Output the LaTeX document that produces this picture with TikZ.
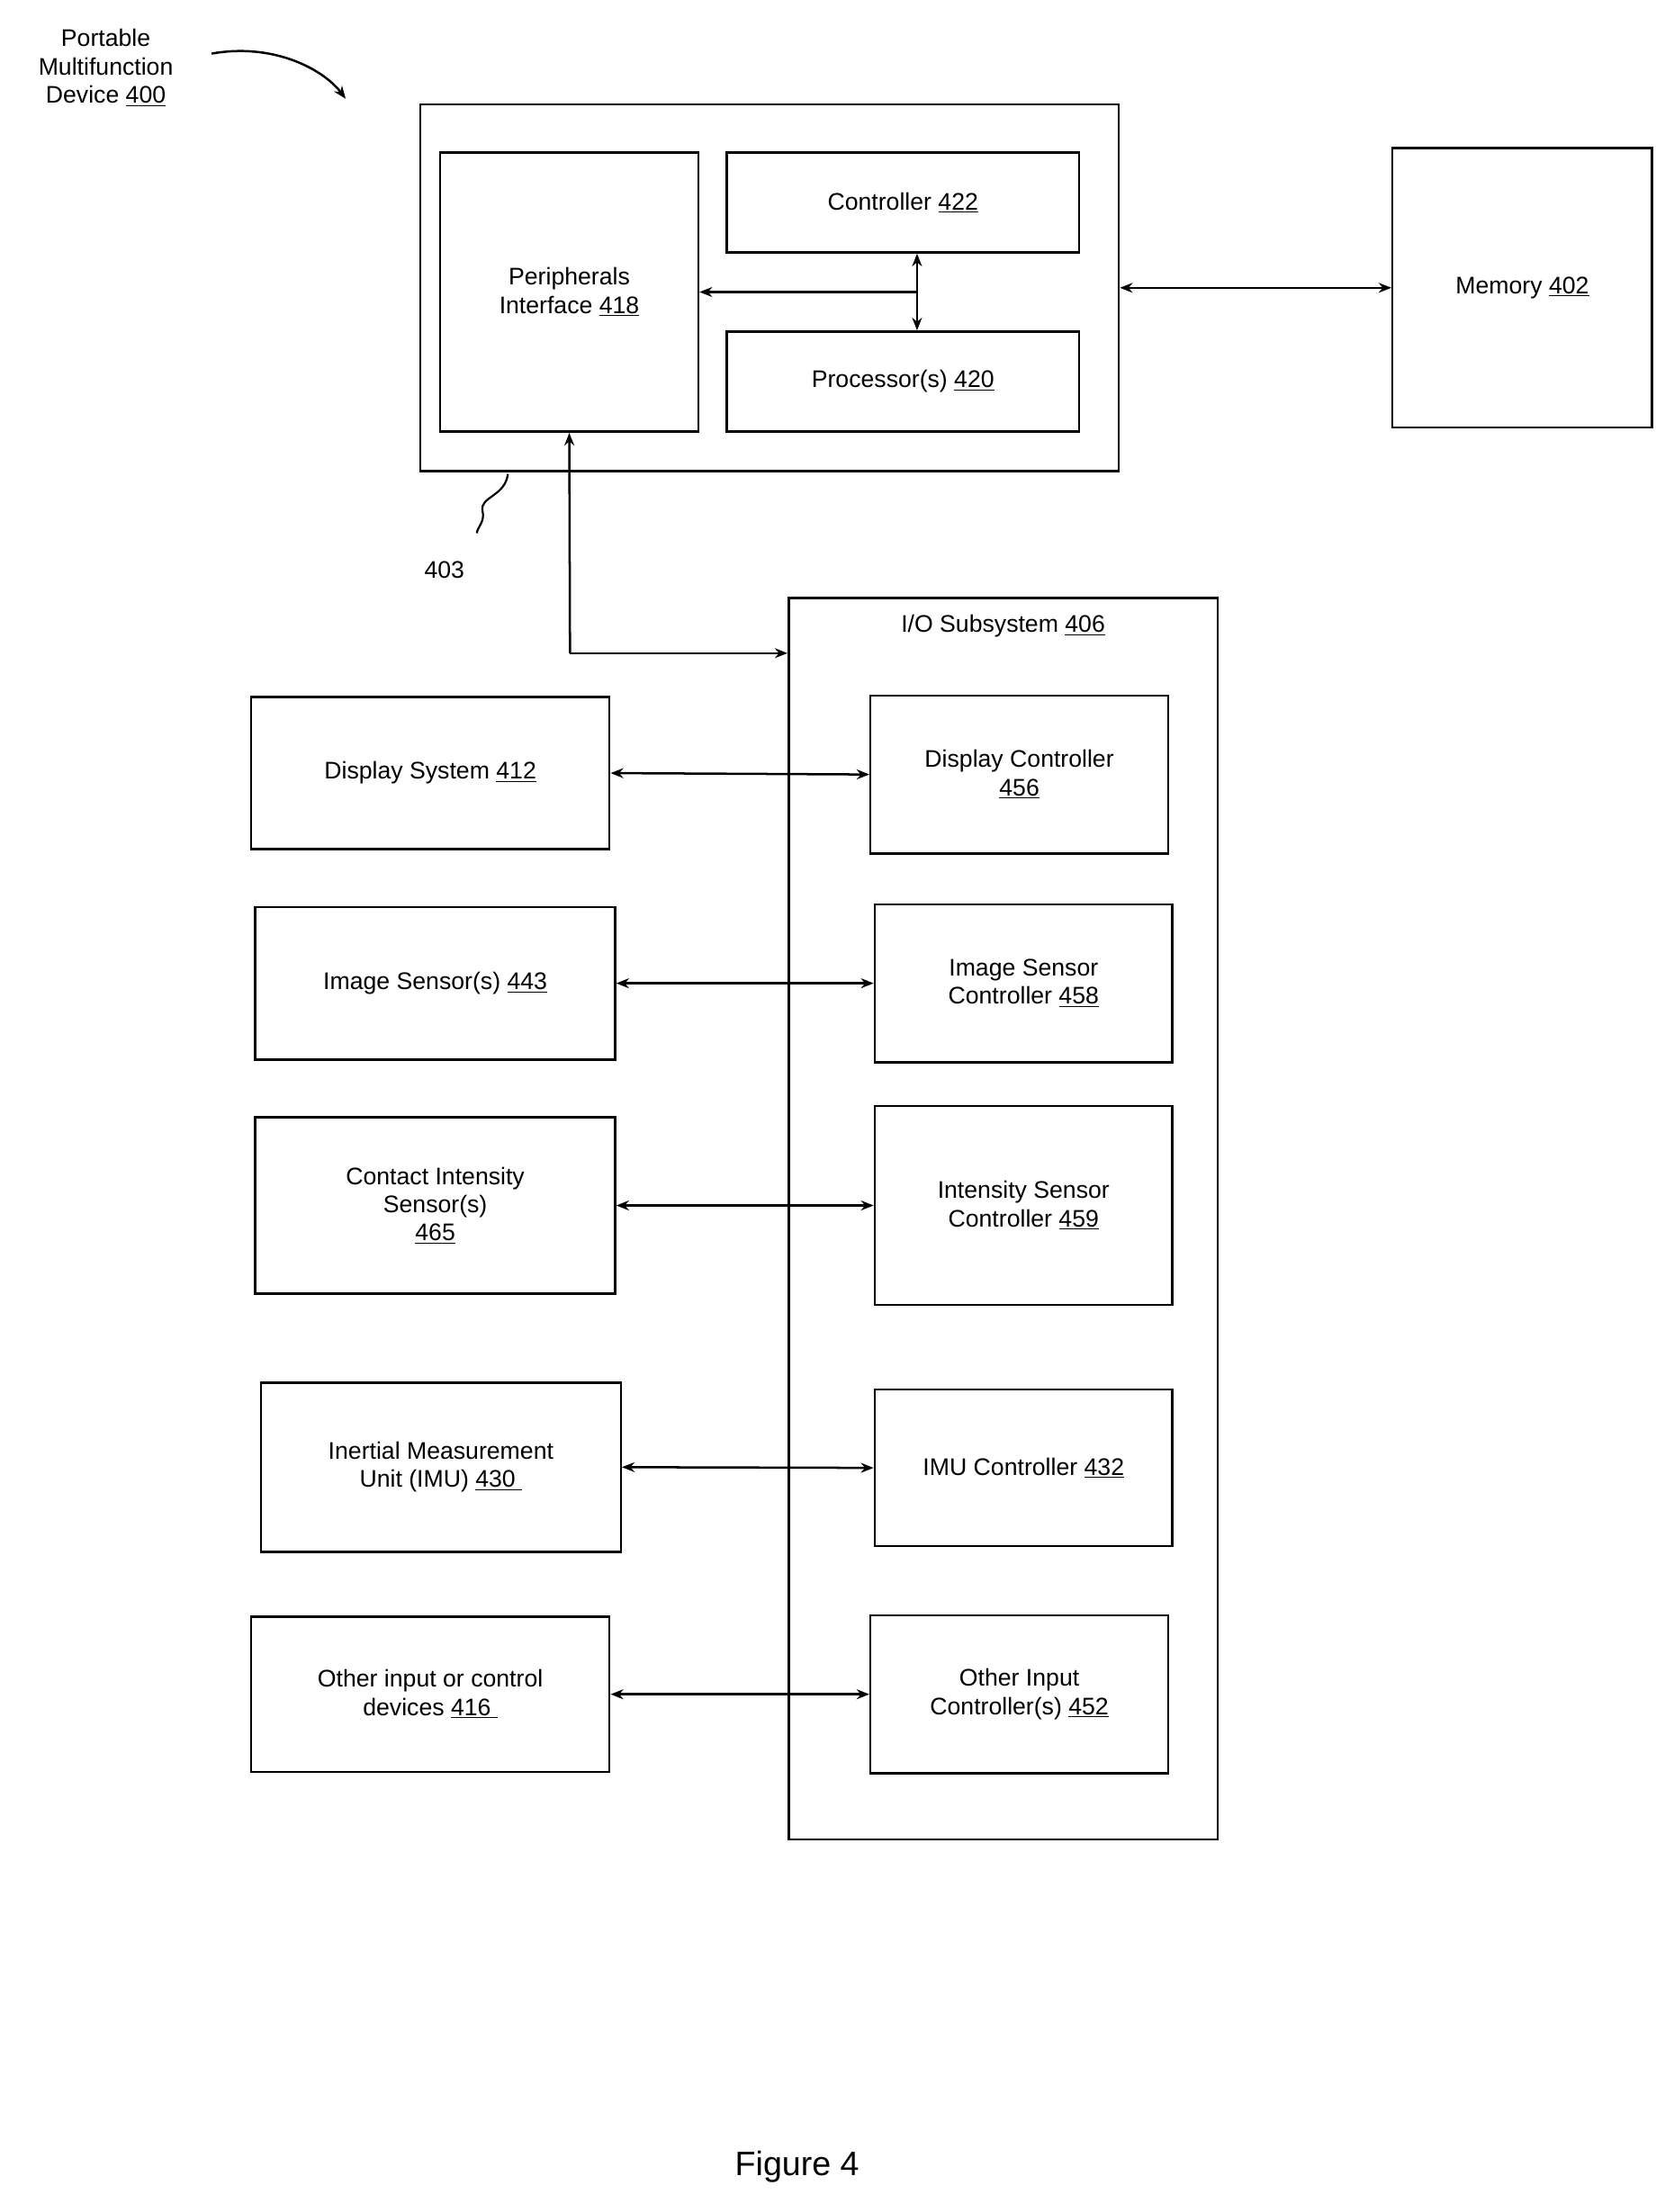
\documentclass[tikz,border=0pt]{standalone}
\usepackage{fontspec}
\setmainfont{Liberation Sans}
\usetikzlibrary{arrows.meta}
\tikzset{
  blk/.style={draw,line width=1.6pt,rectangle,align=center,inner sep=0pt,font=\fontsize{17}{20}\selectfont},
  con/.style={line width=1.6pt,{Stealth[length=9pt,width=7pt]}-{Stealth[length=9pt,width=7pt]}},
  one/.style={line width=1.6pt,-{Stealth[length=9pt,width=7pt]}}
}
\newcommand{\num}[1]{\underline{#1}}
\begin{document}
\begin{tikzpicture}[x=1pt,y=-1pt]
\useasboundingbox (0,0) rectangle (1186,1568);
% top block
\node[blk,minimum width=495pt,minimum height=260pt] (dev) at (545.5,204) {};
\node[blk,minimum width=183pt,minimum height=198pt] (pif) at (403.5,207) {Peripherals\\Interface \num{418}};
\node[blk,minimum width=250pt,minimum height=71pt] (ctl) at (640,143.5) {Controller \num{422}};
\node[blk,minimum width=250pt,minimum height=71pt] (prc) at (640,270.5) {Processor(s) \num{420}};
\node[blk,minimum width=184pt,minimum height=198pt] (mem) at (1079,204) {Memory \num{402}};
% I/O subsystem
\node[blk,minimum width=304pt,minimum height=880pt] (io) at (711,864) {};
\node[font=\fontsize{17}{20}\selectfont] (iot) at (711,444) {I/O Subsystem \num{406}};
% left column
\node[blk,minimum width=254pt,minimum height=108pt] (dsp) at (305,548) {Display System \num{412}};
\node[blk,minimum width=255pt,minimum height=108pt] (img) at (308.5,697) {Image Sensor(s) \num{443}};
\node[blk,minimum width=255pt,minimum height=125pt] (cis) at (308.5,854.5) {Contact Intensity\\Sensor(s)\\\num{465}};
\node[blk,minimum width=255pt,minimum height=120pt] (imu) at (312.5,1040) {Inertial Measurement\\Unit (IMU) \num{430\ }};
\node[blk,minimum width=254pt,minimum height=110pt] (oth) at (305,1201) {Other input or control\\devices \num{416\ }};
% right column
\node[blk,minimum width=211pt,minimum height=112pt] (dspc) at (722.5,549) {Display Controller\\\num{456}};
\node[blk,minimum width=211pt,minimum height=112pt] (imgc) at (725.5,697) {Image Sensor\\Controller \num{458}};
\node[blk,minimum width=211pt,minimum height=141pt] (cisc) at (725.5,854.5) {Intensity Sensor\\Controller \num{459}};
\node[blk,minimum width=211pt,minimum height=111pt] (imuc) at (725.5,1040.5) {IMU Controller \num{432}};
\node[blk,minimum width=211pt,minimum height=112pt] (othc) at (722.5,1201) {Other Input\\Controller(s) \num{452}};
% connectors
\draw[con] (ctl.south -| 650,0) -- (prc.north -| 650,0);
\coordinate (jn) at (650,207);
\draw[one] (jn) -- (pif.east);
\draw[con] (dev.east) -- (mem.west);
\coordinate (bend) at (404,463);
\draw[one] (bend) -- (pif.south);
\draw[one] (bend) -- (bend -| io.west);
\draw[con] (dsp.east) -- (dspc.west);
\draw[con] (img.east) -- (imgc.west);
\draw[con] (cis.east) -- (cisc.west);
\draw[con] (imu.east) -- (imuc.west);
\draw[con] (oth.east) -- (othc.west);
% labels
\node[align=center,font=\fontsize{17}{20}\selectfont] (pmd) at (75,48) {Portable\\Multifunction\\Device \num{400}};
\coordinate (pa) at (150,38);
\draw[one] (pa) .. controls (195,30) and (230,50) .. (245,70);
\node[font=\fontsize{17}{20}\selectfont] (ref) at (315,404) {403};
\coordinate (sq) at (360,336);
\draw[line width=1.4pt] (sq) .. controls (358,352) and (340,352) .. (342,362) .. controls (344,370) and (338,374) .. (338,378);
\node[font=\fontsize{24}{28}\selectfont] (fig) at (565,1536) {Figure 4};
\end{tikzpicture}
\end{document}
